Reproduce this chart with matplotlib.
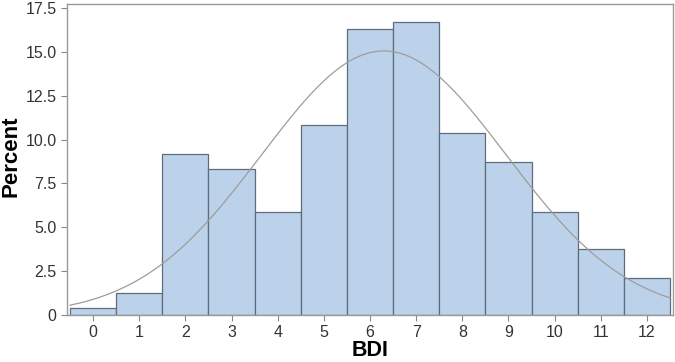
import numpy as np
import matplotlib
matplotlib.use("Agg")
import matplotlib.pyplot as plt

# BDI score histogram (percent per score)
bdi = [0, 1, 2, 3, 4, 5, 6, 7, 8, 9, 10, 11, 12]
percent = [0.4, 1.25, 9.2, 8.35, 5.85, 10.85, 16.3, 16.7, 10.4, 8.75, 5.85, 3.75, 2.1]
y_ticks = [0, 2.5, 5.0, 7.5, 10.0, 12.5, 15.0, 17.5]
y_labels = ["0", "2.5", "5.0", "7.5", "10.0", "12.5", "15.0", "17.5"]

# fitted normal curve parameters
mu = 6.3
sigma = 2.65

plt.rcParams["font.family"] = ["Liberation Sans", "DejaVu Sans"]

fig = plt.figure(figsize=(6.75, 3.62), dpi=100)
ax = fig.add_axes([67 / 675, 1 - 315 / 362, (673 - 67) / 675, (315 - 4) / 362])

ax.bar(bdi, percent, width=1.0, color="#bcd2ea", edgecolor="#5d6b7e", linewidth=0.9)

xs = np.linspace(-0.5, 12.5, 300)
curve = 100 / (sigma * np.sqrt(2 * np.pi)) * np.exp(-(xs - mu) ** 2 / (2 * sigma ** 2))
ax.plot(xs, curve, color="#a09c98", linewidth=0.9)

ax.set_xlim(-0.565, 12.565)
ax.set_ylim(0, 17.73)
ax.set_xticks(bdi)
ax.set_yticks(y_ticks)
ax.set_yticklabels(y_labels)
ax.tick_params(labelsize=11.5, colors="#333333", length=4, color="#888888")
for s in ax.spines.values():
    s.set_color("#999999")
    s.set_linewidth(1.0)

ax.set_xlabel("BDI", fontsize=15.5, fontweight="bold")
ax.set_ylabel("Percent", fontsize=16, fontweight="bold")
ax.xaxis.set_label_coords(0.5, -0.08)
ax.yaxis.set_label_coords(-0.075, 0.511)

fig.savefig("out.png", dpi=100)
